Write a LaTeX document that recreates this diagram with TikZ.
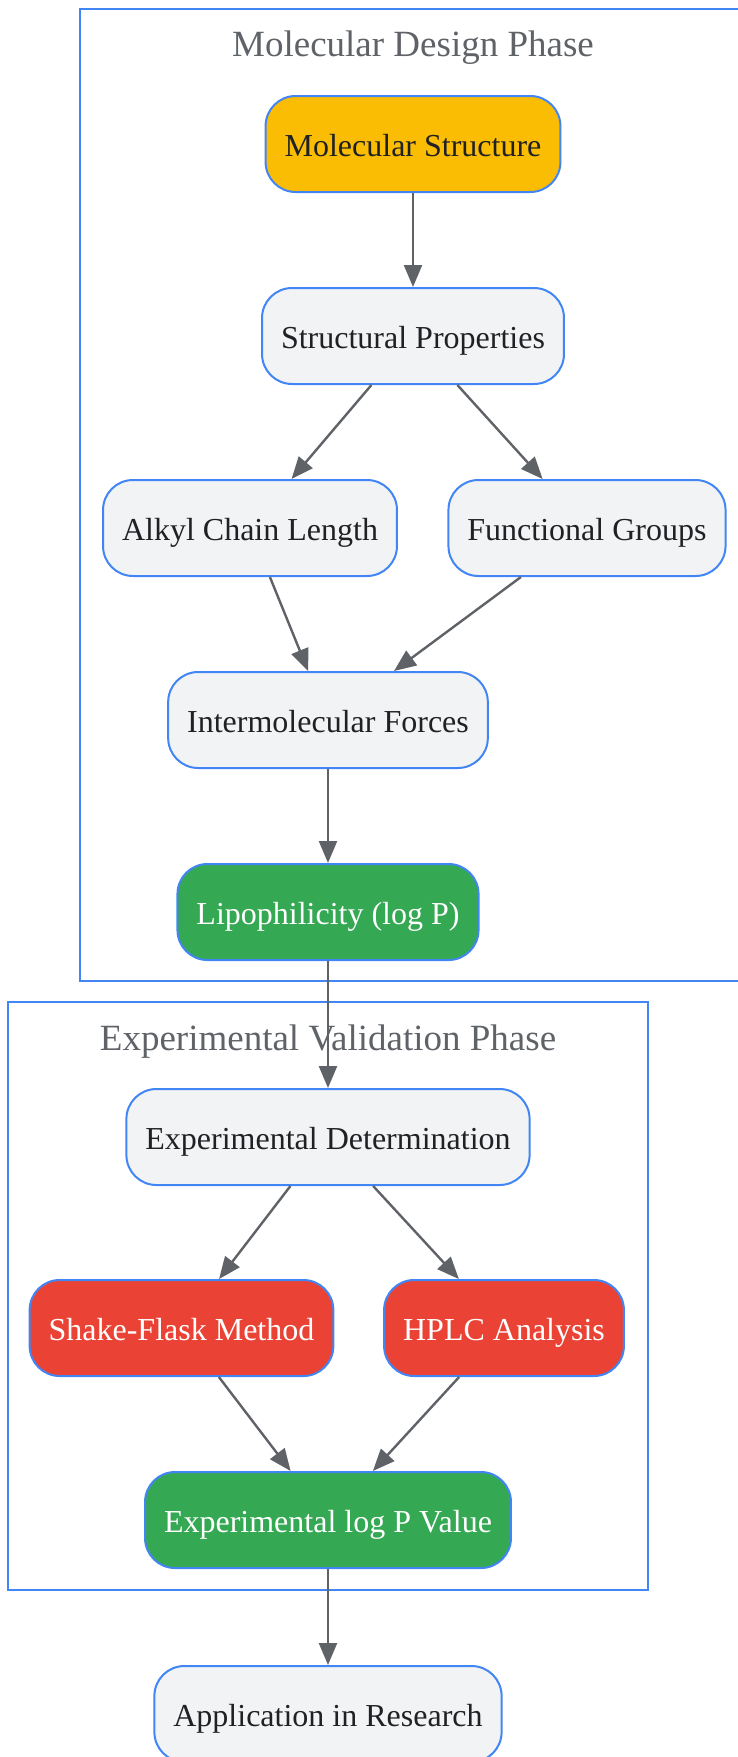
\documentclass[tikz,border=0pt]{standalone}
\usepackage{fontspec}
\setmainfont{Liberation Serif}
\usetikzlibrary{arrows.meta}
\definecolor{gblue}{HTML}{4285F4}
\definecolor{ggray}{HTML}{F1F3F4}
\definecolor{gyellow}{HTML}{FBBC04}
\definecolor{ggreen}{HTML}{34A853}
\definecolor{gred}{HTML}{EA4335}
\definecolor{gtext}{HTML}{202124}
\definecolor{gline}{HTML}{5F6368}
\begin{document}
\begin{tikzpicture}[x=0.5pt, y=-0.5pt,
    box/.style={draw=gblue, line width=1pt, rounded corners=15pt, fill=ggray, text=gtext,
        minimum height=48pt, inner xsep=9.5pt, text height=14pt, text depth=2pt,
        font=\fontsize{16}{19}\selectfont},
    phase/.style={draw=gblue, line width=1pt},
    phasetitle/.style={text=gline, font=\fontsize{18.5}{22}\selectfont},
    flow/.style={draw=gline, line width=1.2pt, -{Triangle[length=11pt,width=9pt]}}]
    \useasboundingbox (0,0) rectangle (738,1757);

    % clusters
    \draw[phase] (80,9) rectangle (748,981);
    \node[phasetitle] (t1) at (413,48) {Molecular Design Phase};
    \draw[phase] (8,1002) rectangle (648,1590);
    \node[phasetitle] (t2) at (328,1042) {Experimental Validation Phase};

    \node[box, fill=gyellow] (ms) at (413,144) {Molecular Structure};
    \node[box] (sp) at (413,336) {Structural Properties};
    \node[box] (acl) at (250,528) {Alkyl Chain Length};
    \node[box] (fg) at (587,528) {Functional Groups};
    \node[box] (imf) at (328,720) {Intermolecular Forces};
    \node[box, fill=ggreen, text=white] (lp) at (328,912) {Lipophilicity (log P)};

    \node[box] (ed) at (328,1137) {Experimental Determination};
    \node[box, fill=gred, text=white] (sf) at (181.5,1328) {Shake-Flask Method};
    \node[box, fill=gred, text=white] (hplc) at (504,1328) {HPLC Analysis};
    \node[box, fill=ggreen, text=white] (elp) at (328,1520) {Experimental log P Value};
    \node[box] (app) at (328,1714) {Application in Research};

    \draw[flow] (ms) -- (sp);
    \draw[flow] (sp) -- (acl);
    \draw[flow] (sp) -- (fg);
    \draw[flow] (acl) -- (imf);
    \draw[flow] (fg) -- (imf);
    \draw[flow] (imf) -- (lp);
    \draw[flow] (lp) -- (ed);
    \draw[flow] (ed) -- (sf);
    \draw[flow] (ed) -- (hplc);
    \draw[flow] (sf) -- (elp);
    \draw[flow] (hplc) -- (elp);
    \draw[flow] (elp) -- (app);
\end{tikzpicture}
\end{document}
